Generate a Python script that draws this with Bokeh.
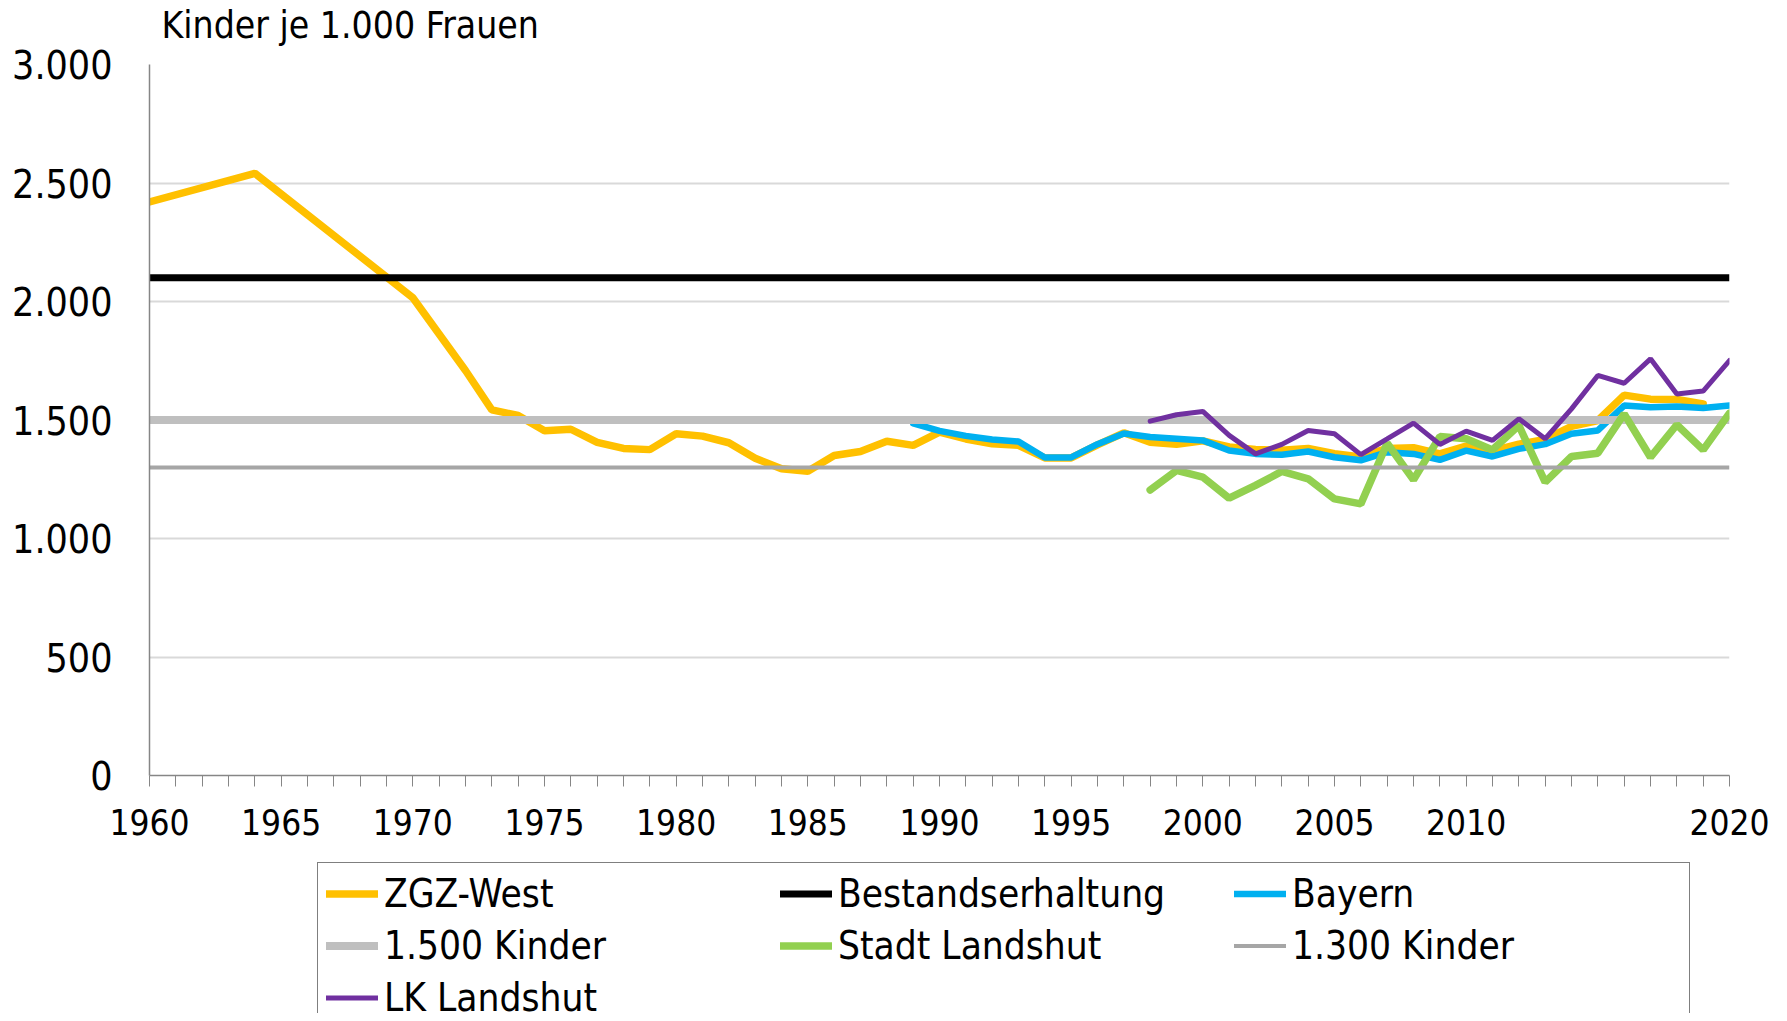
from bokeh.plotting import figure
from bokeh.layouts import column
from bokeh.models import Range1d, FixedTicker, Legend, LegendItem, Label
from bokeh.embed import file_html
from bokeh.resources import INLINE

FONT = "DejaVu Sans Condensed"

# ---- data ----
zgz_years = [1960, 1964, 1970, 1972, 1973, 1974, 1975, 1976, 1977, 1978, 1979,
             1980, 1981, 1982, 1983, 1984, 1985, 1986, 1987, 1988, 1989,
             1990, 1991, 1992, 1993, 1994, 1995, 1996, 1997, 1998, 1999,
             2000, 2001, 2002, 2003, 2004, 2005, 2006, 2007, 2008, 2009,
             2010, 2011, 2012, 2013, 2014, 2015, 2016, 2017, 2018, 2019]
zgz_values = [2420, 2541, 2016, 1709, 1543, 1519, 1455, 1461, 1406, 1380, 1375,
              1442, 1432, 1404, 1339, 1294, 1284, 1350, 1367, 1410, 1393,
              1449, 1420, 1400, 1393, 1340, 1340, 1395, 1446, 1406, 1398,
              1412, 1386, 1376, 1372, 1380, 1358, 1344, 1380, 1383, 1357,
              1390, 1370, 1398, 1418, 1473, 1498, 1605, 1588, 1587, 1568]

bayern_years = list(range(1989, 2021))
bayern_values = [1486, 1454, 1433, 1418, 1409, 1342, 1342, 1398, 1443, 1428, 1421,
                 1414, 1371, 1357, 1353, 1367, 1343, 1330, 1364, 1357, 1332,
                 1371, 1346, 1378, 1398, 1442, 1456, 1561, 1554, 1557, 1551, 1561]

stadt_years = list(range(1998, 2021))
stadt_values = [1205, 1287, 1259, 1170, 1224, 1283, 1252, 1167, 1146, 1402, 1248,
                1430, 1421, 1374, 1477, 1238, 1346, 1360, 1526, 1343, 1480, 1374, 1529]

lk_years = list(range(1998, 2021))
lk_values = [1495, 1522, 1536, 1435, 1357, 1397, 1456, 1442, 1354, 1420, 1487,
             1397, 1453, 1414, 1505, 1421, 1547, 1688, 1655, 1758, 1610, 1622, 1751]

ref_years = [1960, 2020]
bestand_values = [2100, 2100]
k1500_values = [1500, 1500]
k1300_values = [1300, 1300]

y_ticks = [0, 500, 1000, 1500, 2000, 2500, 3000]
y_tick_labels = ["0", "500", "1.000", "1.500", "2.000", "2.500", "3.000"]
x_ticks = list(range(1960, 2021))
x_tick_labels = ["1960", "1965", "1970", "1975", "1980", "1985", "1990",
                 "1995", "2000", "2005", "2010", "2020"]
x_labeled_years = [1960, 1965, 1970, 1975, 1980, 1985, 1990, 1995, 2000, 2005, 2010, 2020]

title_text = "Kinder je 1.000 Frauen"

series_names = ["ZGZ-West", "Bestandserhaltung", "Bayern", "1.500 Kinder",
                "Stadt Landshut", "1.300 Kinder", "LK Landshut"]
series_x = [zgz_years, ref_years, bayern_years, ref_years, stadt_years, ref_years, lk_years]
series_y = [zgz_values, bestand_values, bayern_values, k1500_values,
            stadt_values, k1300_values, lk_values]
series_colors = ["#FFC000", "#000000", "#00B0F0", "#BFBFBF",
                 "#92D050", "#A6A6A6", "#7030A0"]
series_widths = [7.5, 7, 6.5, 8, 7.5, 4, 5]
series_caps = ["round", "butt", "round", "butt", "round", "butt", "round"]

W = 1779

# ---- main chart ----
p = figure(width=W, height=855, output_backend="svg", toolbar_location=None,
           x_range=Range1d(1960, 2020), y_range=Range1d(0, 3000),
           min_border_left=149, min_border_right=50, min_border_top=64,
           min_border_bottom=80)
p.outline_line_color = None
p.background_fill_color = "white"
p.border_fill_color = "white"

# chart heading, placed in the panel above the plot frame
p.add_layout(Label(x=12, y=39, x_units="screen", y_units="screen", text=title_text,
                   text_font=FONT, text_font_size="37px", text_color="black",
                   text_baseline="middle", text_align="left"), "above")

xa = p.xaxis[0]
xa.ticker = FixedTicker(ticks=x_ticks)
overrides = {y: "" for y in x_ticks}
for y, lab in zip(x_labeled_years, x_tick_labels):
    overrides[y] = lab
xa.major_label_overrides = overrides
xa.major_tick_in = 0
xa.major_tick_out = 11
xa.minor_tick_out = 0
xa.minor_tick_in = 0
xa.axis_line_color = "#868686"
xa.axis_line_width = 1.5
xa.major_tick_line_color = "#868686"
xa.major_tick_line_width = 1
xa.major_label_text_font = FONT
xa.major_label_text_font_size = "35px"
xa.major_label_text_color = "black"
xa.major_label_standoff = 22

ya = p.yaxis[0]
ya.ticker = FixedTicker(ticks=y_ticks)
ya.major_label_overrides = {t: l for t, l in zip(y_ticks, y_tick_labels)}
ya.major_tick_in = 0
ya.major_tick_out = 0
ya.minor_tick_out = 0
ya.minor_tick_in = 0
ya.axis_line_color = "#868686"
ya.axis_line_width = 1.5
ya.major_label_text_font = FONT
ya.major_label_text_font_size = "39px"
ya.major_label_text_color = "black"
ya.major_label_standoff = 37

p.xgrid.grid_line_color = None
p.ygrid.grid_line_color = "#D9D9D9"
p.ygrid.grid_line_width = 2

for xs, ys, col, w, cap in zip(series_x, series_y, series_colors, series_widths, series_caps):
    p.line(xs, ys, line_color=col, line_width=w, line_cap=cap)

# ---- legend strip (cut off at the window bottom like the reference) ----
lg = figure(width=W, height=158, output_backend="svg", toolbar_location=None,
            x_range=Range1d(1960, 2020), y_range=Range1d(-2, -1),
            min_border=0, min_border_top=0, min_border_bottom=0)
lg.axis.visible = False
lg.grid.visible = False
lg.outline_line_color = None
lg.background_fill_color = "white"
lg.border_fill_color = "white"

items = []
for name, xs, ys, col, w in zip(series_names, series_x, series_y, series_colors, series_widths):
    r = lg.line(xs, ys, line_color=col, line_width=w, line_cap="round")
    items.append(LegendItem(label=name, renderers=[r]))

legend = Legend(items=items, orientation="horizontal", ncols=3, location=(168, -16))
legend.label_text_font = FONT
legend.label_text_font_size = "38.5px"
legend.label_text_color = "black"
legend.glyph_width = 52
legend.glyph_height = 45
legend.label_height = 45
legend.label_width = 389
legend.label_standoff = 6
legend.spacing = 7
legend.padding = 8
legend.margin = 0
legend.border_line_color = "black"
legend.border_line_width = 1.5
legend.background_fill_color = "white"
legend.background_fill_alpha = 1
lg.add_layout(legend, "center")

layout = column(p, lg, spacing=0)
open("out.html", "w").write(file_html(layout, INLINE))
